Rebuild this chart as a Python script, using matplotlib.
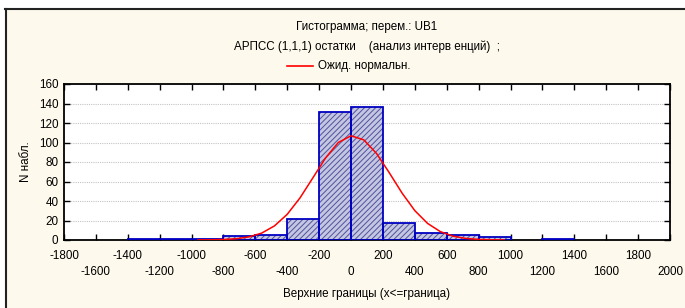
import matplotlib
matplotlib.use('Agg')
import matplotlib.pyplot as plt
from matplotlib.lines import Line2D

plt.rcParams['font.family'] = ['Liberation Sans', 'DejaVu Sans']
plt.rcParams['hatch.linewidth'] = 0.7

# histogram bins (lower edge) and counts
bin_left = [-1400, -1200, -1000, -800, -600, -400, -200, 0, 200, 400, 600, 800, 1200]
bin_width = 200
counts = [1, 1, 1, 4, 5, 22, 131, 136, 17, 7, 5, 3, 1]

# expected normal curve
curve_x = [-960, -880, -800, -720, -640, -560, -480, -400, -320, -240, -160, -80, 0,
           80, 160, 240, 320, 400, 480, 560, 640, 720, 800, 880, 960]
curve_y = [0.1, 0.2, 0.5, 1.3, 3.2, 7.1, 14.5, 26.4, 43.2, 63.6, 84.1, 100.0, 106.9,
           102.7, 88.7, 68.9, 48.1, 30.1, 17.0, 8.6, 3.9, 1.6, 0.6, 0.2, 0.1]

major_ticks = [-1800, -1400, -1000, -600, -200, 200, 600, 1000, 1400, 1800]
minor_ticks = [-1600, -1200, -800, -400, 0, 400, 800, 1200, 1600, 2000]
y_ticks = [0, 20, 40, 60, 80, 100, 120, 140, 160]

title1 = 'Гистограмма; перем.: UB1'
title2 = 'АРПСС (1,1,1) остатки    (анализ интерв енций)  ;'
legend_label = 'Ожид. нормальн.'
x_label = 'Верхние границы (x<=граница)'
y_label = 'N набл.'

FS = 8.4
W, H = 685, 308
fig = plt.figure(figsize=(W / 100, H / 100), dpi=100)
fig.patch.set_facecolor('white')

# cream panel with frame on top and left
panel = plt.Rectangle((6 / W, 0), 1, 1 - 9 / H, transform=fig.transFigure,
                      facecolor='#fdf9ec', edgecolor='none', zorder=-10)
fig.patches.append(panel)
fig.lines.append(Line2D([5 / W, 1], [1 - 9 / H, 1 - 9 / H], transform=fig.transFigure,
                        color='#222222', lw=1.5))
fig.lines.append(Line2D([6 / W, 6 / W], [0, 1 - 9 / H], transform=fig.transFigure,
                        color='#222222', lw=1.5))

ax = fig.add_axes([64 / W, 1 - 240 / H, (670 - 64) / W, (240 - 84) / H])
ax.set_facecolor('white')

# hatched fill, then blue outline
ax.bar(bin_left, counts, width=bin_width, align='edge', facecolor='#c4c6e2',
       edgecolor='#50529c', hatch='//////', linewidth=0, zorder=2)
ax.bar(bin_left, counts, width=bin_width, align='edge', facecolor='none',
       edgecolor='#0000c0', linewidth=1.3, zorder=3)
ax.plot(curve_x, curve_y, color='#ff0000', lw=1.1, zorder=4)

ax.set_xlim(-1800, 2000)
ax.set_ylim(0, 160)
ax.set_yticks(y_ticks)
ax.set_xticks(major_ticks)
ax.set_xticks(minor_ticks, minor=True)
ax.set_xticklabels([str(v) for v in major_ticks])
ax.set_xticklabels([str(v) for v in minor_ticks], minor=True)
ax.tick_params(axis='both', which='both', direction='in', length=4, width=1,
               labelsize=FS, top=True, right=True)
ax.tick_params(axis='x', which='major', pad=7)
ax.tick_params(axis='x', which='minor', pad=19)
ax.tick_params(axis='y', pad=4)

ax.yaxis.grid(True, color='#c4c4c4', linestyle=(0, (1, 1)), lw=0.8, zorder=0)
ax.set_axisbelow(True)
for s in ax.spines.values():
    s.set_linewidth(1.3)
    s.set_color('black')

ax.set_xlabel(x_label, fontsize=FS, labelpad=7)
ax.set_ylabel(y_label, fontsize=FS, labelpad=5)

fig.text(367 / W, 1 - 27 / H, title1, ha='center', va='center', fontsize=FS)
fig.text(367 / W, 1 - 47 / H, title2, ha='center', va='center', fontsize=FS)
fig.lines.append(Line2D([287 / W, 313 / W], [1 - 66 / H, 1 - 66 / H],
                        transform=fig.transFigure, color='#ff0000', lw=1.2))
fig.text(318 / W, 1 - 66 / H, legend_label, ha='left', va='center', fontsize=FS)

fig.savefig('out.png', dpi=100, facecolor=fig.get_facecolor())
plt.close(fig)
